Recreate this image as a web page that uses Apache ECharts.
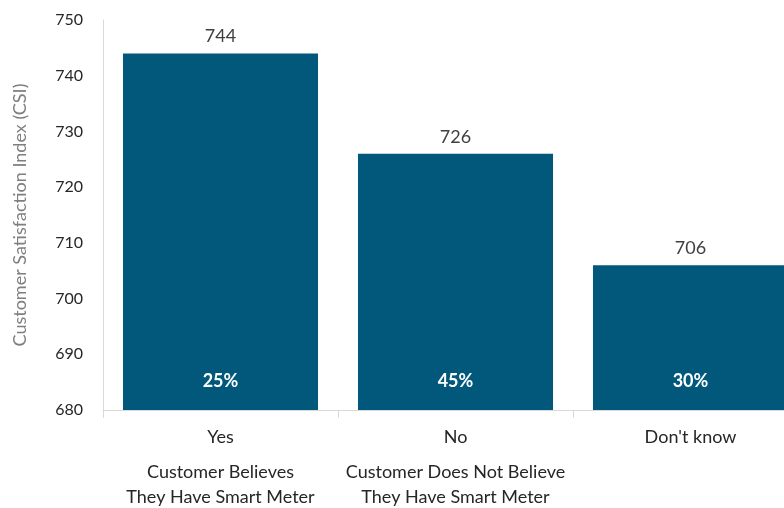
<!DOCTYPE html>
<html>
<head>
<meta charset="utf-8">
<script src="https://cdn.jsdelivr.net/npm/echarts@6/dist/echarts.min.js"></script>
<style>html,body{margin:0;padding:0;background:#fff;overflow:hidden;}#c{width:784px;height:508px;}</style>
</head>
<body>
<div id="c"></div>
<script>
var categories = ["Yes", "No", "Don't know"];
var subtitles = ["Customer Believes\nThey Have Smart Meter", "Customer Does Not Believe\nThey Have Smart Meter", ""];
var csiValues = [744, 726, 706];
var shares = ["25%", "45%", "30%"];
var yTicks = [680, 690, 700, 710, 720, 730, 740, 750];

var FONT = "Lato, 'Open Sans', sans-serif";
var chart = echarts.init(document.getElementById('c'), null, {renderer: 'canvas'});
chart.setOption({
  animation: false,
  grid: {left: 103, top: 20, right: -24, bottom: 98, containLabel: false, outerBoundsMode: 'none'},
  xAxis: {
    type: 'category',
    data: categories,
    axisLine: {lineStyle: {color: '#d9d9d9', width: 1}},
    axisTick: {show: true, length: 8, lineStyle: {color: '#d9d9d9'}},
    axisLabel: {
      margin: 12,
      interval: 0,
      formatter: function (v, i) {
        var s = '{a|' + v + '}';
        if (subtitles[i]) {
          s += '\n{g| }\n' + subtitles[i].split('\n').map(function (t) { return '{b|' + t + '}'; }).join('\n');
        }
        return s;
      },
      rich: {
        a: {fontFamily: FONT, fontSize: 18, color: '#262626', lineHeight: 30},
        g: {fontSize: 1, lineHeight: 8},
        b: {fontFamily: FONT, fontSize: 18, color: '#262626', lineHeight: 25}
      }
    }
  },
  yAxis: {
    type: 'value',
    min: yTicks[0],
    max: yTicks[yTicks.length - 1],
    interval: 10,
    name: 'Customer Satisfaction Index (CSI)',
    nameLocation: 'middle',
    nameGap: 74,
    nameTextStyle: {fontFamily: FONT, fontSize: 18, color: '#7f7f7f'},
    axisLine: {show: true, lineStyle: {color: '#d9d9d9'}},
    axisTick: {show: false},
    splitLine: {show: false},
    axisLabel: {margin: 20, fontFamily: FONT, fontSize: 16, color: '#262626'}
  },
  series: [{
    type: 'bar',
    data: csiValues,
    barCategoryGap: '17%',
    itemStyle: {color: '#02587a'},
    label: {
      show: true,
      position: 'top',
      distance: 8,
      fontFamily: FONT,
      fontSize: 18,
      color: '#404040'
    }
  }, {
    type: 'bar',
    data: csiValues,
    barGap: '-100%',
    barCategoryGap: '17%',
    itemStyle: {color: 'rgba(0,0,0,0)'},
    silent: true,
    label: {
      show: true,
      position: 'insideBottom',
      distance: 20,
      formatter: function (p) { return shares[p.dataIndex]; },
      fontFamily: FONT,
      fontSize: 18,
      fontWeight: 'bold',
      color: '#ffffff'
    }
  }]
});
</script>
</body>
</html>
